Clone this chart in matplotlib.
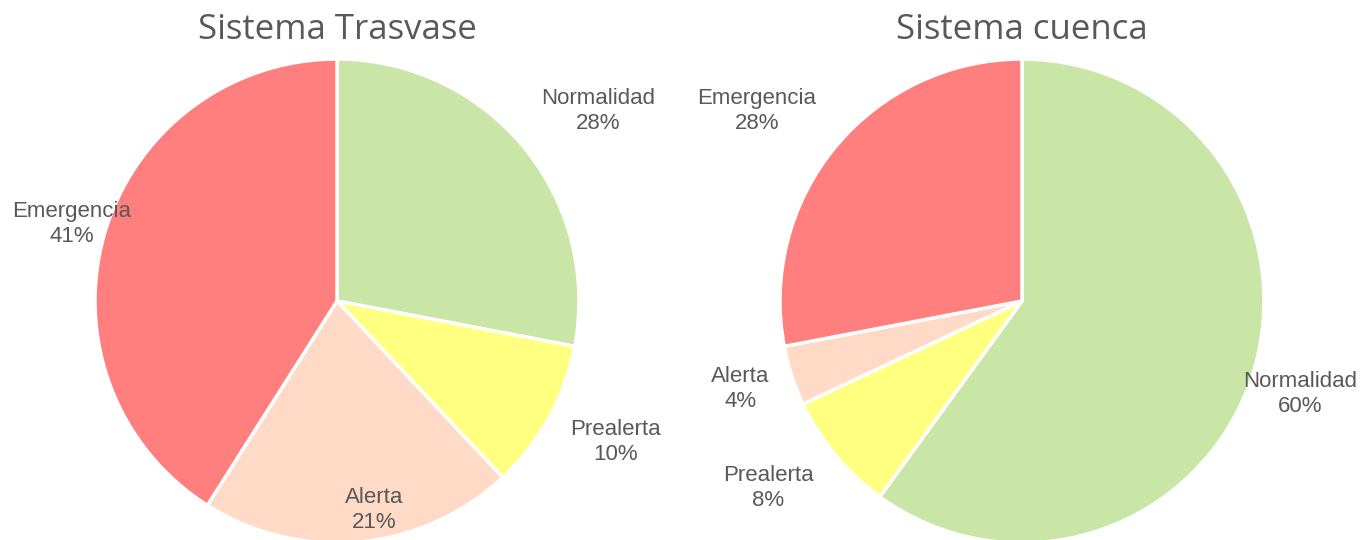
import matplotlib
matplotlib.use("Agg")
import matplotlib.pyplot as plt
import numpy as np

W, H = 1361, 540

titles = ["Sistema Trasvase", "Sistema cuenca"]
categories = ["Normalidad", "Prealerta", "Alerta", "Emergencia"]
trasvase = [28, 10, 21, 41]
cuenca = [60, 8, 4, 28]
colors = ["#c9e6a7", "#ffff80", "#ffdac6", "#ff7f7f"]

# per-label radial distance (in pie radii) and angle nudge (deg), tuned by eye
label_dist = [
    [1.336, 1.29, 0.877, 1.141],
    [1.211, 1.304, 1.22, 1.347],
]
label_nudge = [
    [-3.6, 2.0, 4.6, 0.0],
    [-0.5, -3.2, -0.7, 4.0],
]

label_font = ["Liberation Sans", "DejaVu Sans"]
text_color = "#595959"

fig = plt.figure(figsize=(W / 100, H / 100), dpi=100)

centers = [(337, 301), (1022, 301)]
R = 242

for i, vals in enumerate([trasvase, cuenca]):
    cx, cy = centers[i]
    ax = fig.add_axes([(cx - R) / W, (H - cy - R) / H, 2 * R / W, 2 * R / H])
    wedges, _ = ax.pie(vals, colors=colors, startangle=90, counterclock=False,
                       radius=1, wedgeprops=dict(edgecolor="white", linewidth=2.5))
    for w in wedges:
        w.set_clip_on(False)
    ax.set_xlim(-1, 1)
    ax.set_ylim(-1, 1)
    ax.set_aspect("equal")
    ax.axis("off")
    for j, w in enumerate(wedges):
        ang = np.deg2rad((w.theta1 + w.theta2) / 2 + label_nudge[i][j])
        d = label_dist[i][j]
        ax.text(d * np.cos(ang), d * np.sin(ang),
                "%s\n%d%%" % (categories[j], vals[j]),
                ha="center", va="center", fontsize=16, linespacing=1.25,
                color=text_color, family=label_font, clip_on=False)
    fig.text(cx / W, 1 - 30 / H, titles[i], ha="center", va="center",
             fontsize=25, color=text_color, family=["Open Sans", "DejaVu Sans"])

plt.savefig("out.png", dpi=100)
